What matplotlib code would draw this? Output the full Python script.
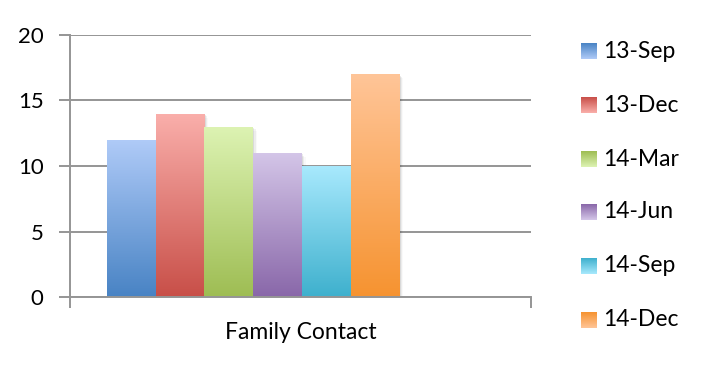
import numpy as np
import matplotlib.pyplot as plt
from matplotlib.colors import LinearSegmentedColormap
from matplotlib.patches import Rectangle

plt.rcParams['font.family'] = ['Lato', 'DejaVu Sans']

category = 'Family Contact'
series = ['13-Sep', '13-Dec', '14-Mar', '14-Jun', '14-Sep', '14-Dec']
values = [12, 14, 13, 11, 10, 17]
top_colors = ['#B0CBF8', '#FAAFAB', '#DDF3B3', '#D4C6E8', '#A8E9FD', '#FFC598']
bottom_colors = ['#4883C4', '#C84F48', '#9EBD53', '#8967A9', '#3EB0CD', '#F69330']

grid_gray = '#959595'

fig = plt.figure(figsize=(7.19, 3.65), dpi=100)
W, H = 719, 365

# plot area in pixels
x0, x1, ytop, ybot = 70, 531, 35, 297
ax = fig.add_axes([x0 / W, (H - ybot) / H, (x1 - x0) / W, (ybot - ytop) / H])

# bars sit on integer slots, width 1; category runs over the full x range
xl, xr = -1.26, 8.2
ax.set_xlim(xl, xr)
ax.set_ylim(0, 20)

grad = np.linspace(0, 1, 256).reshape(-1, 1)
for i, (v, c_top, c_bot) in enumerate(zip(values, top_colors, bottom_colors)):
    cmap = LinearSegmentedColormap.from_list(f's{i}', [c_bot, c_top])
    # soft shadow to the right of each bar
    for k, a in enumerate([0.08, 0.05, 0.025]):
        sh = Rectangle((i - 0.5 + 0.025 * (k + 1), 0), 1, v - 0.1 * (k + 1),
                       facecolor='black', alpha=a, edgecolor='none', zorder=2)
        ax.add_patch(sh)
    bar = ax.bar(i, v, width=1.0, color='none', edgecolor='none', zorder=3)[0]
    im = ax.imshow(grad, cmap=cmap, origin='lower', aspect='auto',
                   extent=[i - 0.5, i + 0.5, 0, v], zorder=3 + i * 0.01)
    im.set_clip_path(bar)

ax.set_xlim(xl, xr)
ax.set_ylim(0, 20)

ax.set_yticks([0, 5, 10, 15, 20])
ax.yaxis.grid(True, color=grid_gray, linewidth=1.4, zorder=1)
ax.set_axisbelow(True)
ax.tick_params(axis='y', direction='out', length=8, width=1.4, color=grid_gray,
               labelsize=16, pad=11)
ax.set_xticks([xl, xr])
ax.set_xticklabels(['', ''])
ax.tick_params(axis='x', direction='out', length=8, width=1.4, color=grid_gray)
ax.text((xl + xr) / 2, -0.135, category, transform=ax.get_xaxis_transform(),
        ha='center', va='center', fontsize=16.5)

for s in ['top', 'right']:
    ax.spines[s].set_visible(False)
for s in ['left', 'bottom']:
    ax.spines[s].set_color(grid_gray)
    ax.spines[s].set_linewidth(1.4)
ax.spines['bottom'].set_zorder(5)

# legend drawn in its own pixel-space axes
lax = fig.add_axes([0, 0, 1, 1], facecolor='none')
lax.set_xlim(0, W)
lax.set_ylim(H, 0)
lax.axis('off')
ys = [51, 105, 159, 212, 266, 320]
for y, name, c_top, c_bot in zip(ys, series, top_colors, bottom_colors):
    cmap = LinearSegmentedColormap.from_list(name, [c_bot, c_top])
    lax.imshow(grad, cmap=cmap, origin='upper', aspect='auto',
               extent=[581, 597, y + 8, y - 8], zorder=3)
    lax.text(603, y, name, ha='left', va='center', fontsize=16.5)
lax.set_xlim(0, W)
lax.set_ylim(H, 0)

fig.savefig('out.png', dpi=100)
